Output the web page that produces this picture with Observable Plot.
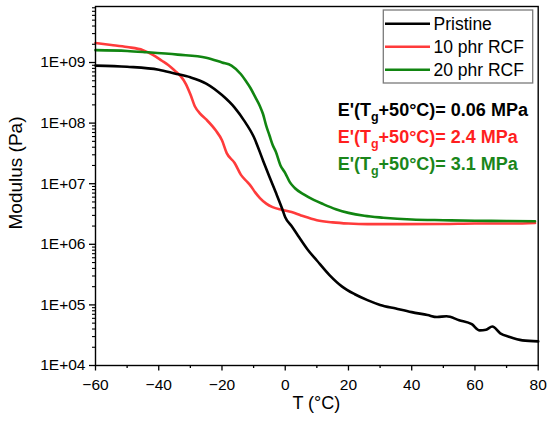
<!DOCTYPE html>
<html>
<head>
<meta charset="utf-8">
<script src="https://cdn.jsdelivr.net/npm/d3@7"></script>
<script src="https://cdn.jsdelivr.net/npm/@observablehq/plot@0.6"></script>
<style>
  body { margin: 0; background: #fff; }
  svg { font-family: "Liberation Sans", Arial, sans-serif; }
</style>
</head>
<body>
<div id="chart"></div>
<script>
// ---- data ----
const seriesNames = ["Pristine", "10 phr RCF", "20 phr RCF"];
const seriesColors = ["#000000", "#ff3b3b", "#118511"];
const annoColors = ["#000000", "#ff1f1f", "#1a861a"];
const annoValues = ["0.06 MPa", "2.4 MPa", "3.1 MPa"];

const pristineT = [-60, -50, -40, -35, -30, -25, -20, -16, -13, -10, -7, -5, -3, -1, 0, 2, 4, 7, 10, 14, 18, 22, 26, 30, 35, 40, 45, 48, 51, 55, 59, 61.5, 63.5, 65.5, 68, 71, 75, 80];
const pristineE = [8.9e8, 8.5e8, 7.6e8, 6.6e8, 5.7e8, 4.5e8, 2.9e8, 1.8e8, 1.1e8, 6.0e7, 2.4e7, 1.3e7, 7.2e6, 3.9e6, 2.8e6, 2.0e6, 1.4e6, 8.3e5, 5.4e5, 3.1e5, 2.0e5, 1.5e5, 1.2e5, 1.0e5, 8.7e4, 7.6e4, 6.8e4, 6.3e4, 6.5e4, 5.6e4, 4.8e4, 3.8e4, 3.9e4, 4.4e4, 3.4e4, 2.95e4, 2.6e4, 2.5e4];

const rcf10T = [-60, -55, -50, -45, -42, -39, -37, -35, -33, -31.5, -30, -28.5, -27, -25, -22, -20, -18.5, -16, -14, -12, -11, -9.5, -8, -6, -4, -1, 2, 5, 10, 15, 20, 26, 36, 50, 60, 72, 79];
const rcf10E = [2.1e9, 1.95e9, 1.8e9, 1.6e9, 1.35e9, 1.07e9, 9.1e8, 7.4e8, 5.9e8, 4.5e8, 3.0e8, 1.86e8, 1.45e8, 1.15e8, 7.6e7, 5.2e7, 3.2e7, 2.2e7, 1.4e7, 1.07e7, 9.3e6, 7.2e6, 5.8e6, 4.7e6, 4.1e6, 3.7e6, 3.4e6, 3.0e6, 2.5e6, 2.3e6, 2.2e6, 2.15e6, 2.15e6, 2.16e6, 2.2e6, 2.2e6, 2.25e6];

const rcf20T = [-60, -50, -44, -34, -25, -20, -17, -14, -12.5, -11, -9.5, -8, -7, -6, -5, -4, -3, -1.5, 0, 1.5, 3, 6, 9, 12, 16, 20, 25, 31, 40, 50, 60, 70, 79];
const rcf20E = [1.6e9, 1.55e9, 1.48e9, 1.35e9, 1.2e9, 1.0e9, 8.9e8, 6.4e8, 5.0e8, 3.8e8, 2.7e8, 1.9e8, 1.4e8, 9.0e7, 6.3e7, 4.4e7, 3.4e7, 2.0e7, 1.5e7, 1.05e7, 8.5e6, 6.6e6, 5.4e6, 4.6e6, 3.8e6, 3.3e6, 2.95e6, 2.75e6, 2.57e6, 2.5e6, 2.45e6, 2.43e6, 2.4e6];

const xMajorTicks = [-60, -40, -20, 0, 20, 40, 60, 80];
const xMinorTicks = [-50, -30, -10, 10, 30, 50, 70];
const yMajorTicks = [1e4, 1e5, 1e6, 1e7, 1e8, 1e9];
const yMinorTicks = [];
for (let k = 4; k <= 9; k++) for (let m = 2; m <= 9; m++) if (m * 10 ** k <= 8.4e9) yMinorTicks.push(m * 10 ** k);

const xTitle = "T (°C)";
const yTitle = "Modulus (Pa)";

// ---- table built from arrays ----
const table = [];
const addSeries = (name, T, E) => T.forEach((t, i) => table.push({series: name, T: t, E: E[i]}));
addSeries(seriesNames[1], rcf10T, rcf10E);
addSeries(seriesNames[2], rcf20T, rcf20E);
addSeries(seriesNames[0], pristineT, pristineE);

const fmtY = d => "1E+" + String(Math.round(Math.log10(d))).padStart(2, "0");

function legendMark(index, scales, values, dims) {
  const g = d3.create("svg:g").attr("text-anchor", "start");
  const right = dims.width - dims.marginRight;
  const x0 = right - 154.4, y0 = dims.marginTop + 4;
  g.append("rect").attr("x", x0).attr("y", y0).attr("width", 149.4).attr("height", 73)
    .attr("fill", "white").attr("stroke", "#7a7a7a").attr("stroke-width", 1.3);
  seriesNames.forEach((name, i) => {
    const ly = y0 + 13.7 + i * 23;
    g.append("line").attr("x1", x0 + 1.7).attr("x2", x0 + 46.7).attr("y1", ly).attr("y2", ly)
      .attr("stroke", seriesColors[i]).attr("stroke-width", 2.6);
    g.append("text").attr("x", x0 + 50.2).attr("y", ly + 6.3)
      .attr("font-size", 17.5).attr("fill", "black").text(name);
  });
  return g.node();
}

function annoMark(index, scales, values, dims) {
  const g = d3.create("svg:g").attr("text-anchor", "start");
  const right = dims.width - dims.marginRight;
  const x0 = right - 200;
  annoValues.forEach((v, i) => {
    const t = g.append("text").attr("x", x0).attr("y", dims.marginTop + 109.7 + i * 27.2)
      .attr("font-size", 18).attr("font-weight", "bold").attr("fill", annoColors[i]);
    t.append("tspan").text("E'(T");
    t.append("tspan").attr("dy", 5).attr("font-size", 12.5).text("g");
    t.append("tspan").attr("dy", -5).text("+50°C)= " + v);
  });
  return g.node();
}

function titleMark(index, scales, values, dims) {
  const g = d3.create("svg:g").attr("text-anchor", "middle").attr("fill", "black");
  const cx = (dims.marginLeft + dims.width - dims.marginRight) / 2;
  const bottom = dims.height - dims.marginBottom;
  const cy = (dims.marginTop + bottom) / 2;
  g.append("text").attr("x", cx).attr("y", bottom + 43.5).attr("font-size", 18).text(xTitle);
  g.append("text").attr("transform", `translate(${dims.marginLeft - 73},${cy - 12.5}) rotate(-90)`)
    .attr("font-size", 19).text(yTitle);
  return g.node();
}

const chart = Plot.plot({
  width: 550,
  height: 427,
  marginLeft: 95,
  marginRight: 12.3,
  marginTop: 6,
  marginBottom: 62,
  style: {fontFamily: "Liberation Sans, Arial, sans-serif", fontSize: "15px", color: "black", background: "white"},
  x: {domain: [-60, 80]},
  y: {type: "log", domain: [1e4, 8.4e9]},
  color: {domain: seriesNames, range: seriesColors},
  marks: [
    Plot.line(table, {x: "T", y: "E", z: "series", stroke: "series", strokeWidth: 2.6, curve: "monotone-x"}),
    Plot.axisX({ticks: xMinorTicks, tickSize: 3, tickFormat: () => "", label: null, strokeWidth: 1.3}),
    Plot.axisX({ticks: xMajorTicks, tickSize: 5.5, tickPadding: 8, label: null, strokeWidth: 1.3, fontSize: 15.5}),
    Plot.axisY({ticks: yMinorTicks, tickSize: 3, tickFormat: () => "", label: null, strokeWidth: 1.1}),
    Plot.axisY({ticks: yMajorTicks, tickSize: 6, tickPadding: 4, tickFormat: fmtY, label: null, strokeWidth: 1.3, fontSize: 15.5}),
    Plot.frame({stroke: "black", strokeWidth: 1.4}),
    titleMark,
    legendMark,
    annoMark
  ]
});
document.getElementById("chart").appendChild(chart);
</script>
</body>
</html>
